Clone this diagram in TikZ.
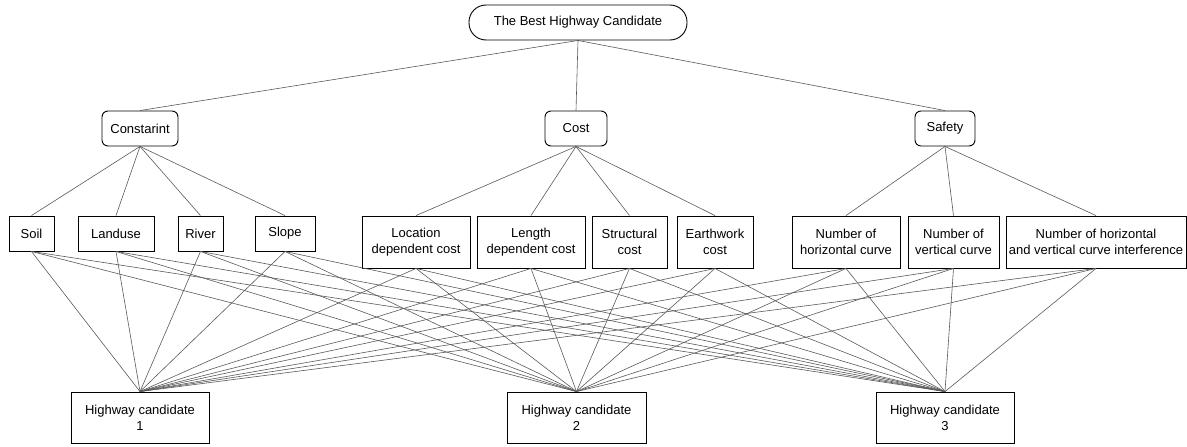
\documentclass[tikz,border=0pt]{standalone}
\usepackage{fontspec}
\setmainfont{Liberation Sans}
\begin{document}
\begin{tikzpicture}[x=1pt,y=-1pt,
  every node/.style={font=\fontsize{13}{16}\selectfont, align=center, inner sep=0pt, text=black},
  box/.style={draw=black, line width=0.9pt, fill=white, minimum height=35pt},
  tallbox/.style={box, minimum height=52pt},
  roundbox/.style={box, rounded corners=6pt},
  pill/.style={box, rounded corners=17pt},
  link/.style={draw=black!65, line width=0.6pt}
]
\useasboundingbox (0,0) rectangle (1187,447);

% goal
\node[pill, minimum width=218pt] (goal) at (578,22.5) {The Best Highway Candidate};

% criteria
\node[roundbox, minimum width=76pt] (constraint) at (140,128.5) {Constarint};
\node[roundbox, minimum width=62pt] (cost) at (576,128.5) {Cost};
\node[roundbox, minimum width=60pt] (safety) at (945,128.5) {Safety};

% sub-criteria
\node[box, minimum width=45pt] (soil) at (31.5,233.5) {Soil};
\node[box, minimum width=76pt] (landuse) at (116,233.5) {Landuse};
\node[box, minimum width=45pt] (river) at (200.5,233.5) {River};
\node[box, minimum width=60pt] (slope) at (285,233.5) {Slope};

\node[tallbox, minimum width=108pt] (location) at (416,242) {Location\\dependent cost};
\node[tallbox, minimum width=108pt] (length) at (531,242) {Length\\dependent cost};
\node[tallbox, minimum width=75pt] (structural) at (629.5,242) {Structural\\cost};
\node[tallbox, minimum width=76pt] (earthwork) at (715,242) {Earthwork\\cost};

\node[tallbox, minimum width=108pt] (horiz) at (846,242) {Number of\\horizontal curve};
\node[tallbox, minimum width=91pt] (vert) at (953.5,242) {Number of\\vertical curve};
\node[tallbox, minimum width=180pt] (interf) at (1096,242) {Number of horizontal\\and vertical curve interference};

% alternatives
\node[box, minimum width=138pt, minimum height=51pt] (hc1) at (140,417.5) {Highway candidate\\1};
\node[box, minimum width=139pt, minimum height=51pt] (hc2) at (576.5,417.5) {Highway candidate\\2};
\node[box, minimum width=138pt, minimum height=51pt] (hc3) at (945,417.5) {Highway candidate\\3};

% hierarchy links
\foreach \c in {constraint,cost,safety}
  \draw[link] (goal.south) -- (\c.north);
\foreach \s in {soil,landuse,river,slope}
  \draw[link] (constraint.south) -- (\s.north);
\foreach \s in {location,length,structural,earthwork}
  \draw[link] (cost.south) -- (\s.north);
\foreach \s in {horiz,vert,interf}
  \draw[link] (safety.south) -- (\s.north);

% every sub-criterion feeds every candidate
\foreach \s in {soil,landuse,river,slope,location,length,structural,earthwork,horiz,vert,interf}
  \foreach \h in {hc1,hc2,hc3}
    \draw[link] (\s.south) -- (\h.north);
\end{tikzpicture}
\end{document}
